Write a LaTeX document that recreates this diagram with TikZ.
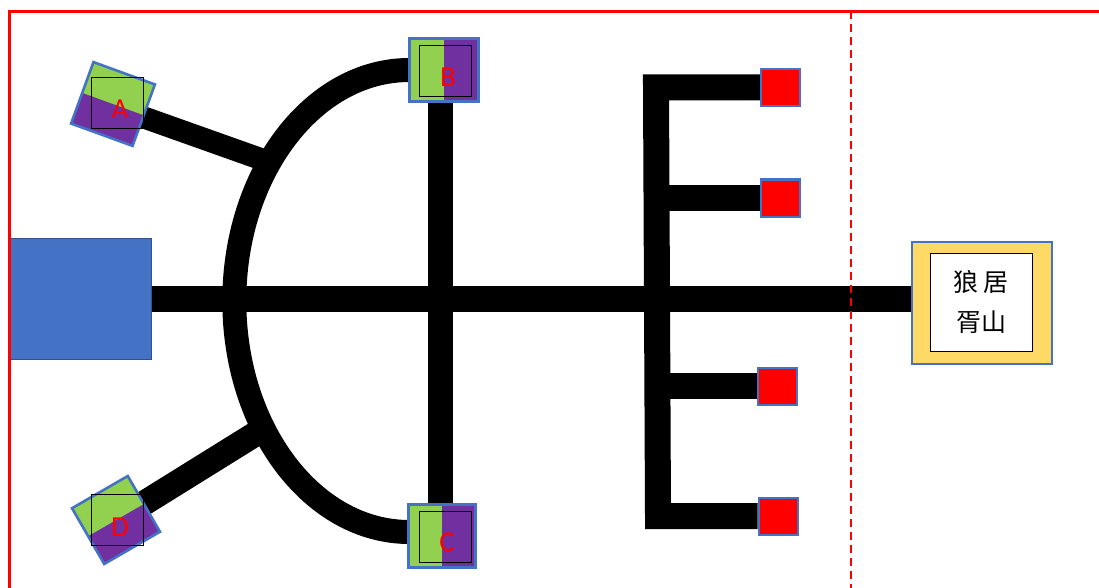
\documentclass[tikz,border=0pt]{standalone}
\usepackage{fontspec}
\setmainfont{Carlito}
\newfontfamily\cjkfont{Noto Sans CJK SC}
\usetikzlibrary{backgrounds}

\definecolor{boxblue}{RGB}{68,114,196}
\definecolor{darkblue}{RGB}{47,82,143}
\definecolor{leafgreen}{RGB}{146,208,80}
\definecolor{plum}{RGB}{112,48,160}
\definecolor{gold}{RGB}{255,217,102}

\tikzset{
  bar/.style={line width=25pt, black},
  gate/.style={fill=plum, minimum width=64pt, minimum height=64pt, inner sep=0pt},
  gateline/.style={draw=boxblue, line width=2.6pt, line join=miter},
  frame/.style={draw=black, line width=0.8pt, minimum width=52pt, minimum height=51pt, inner sep=0pt},
  tag/.style={text=red, inner sep=0pt, font=\fontsize{29}{29}\selectfont},
  stub/.style={draw=boxblue, line width=2pt, fill=red, minimum width=39pt, minimum height=37pt, inner sep=0pt},
}

\begin{document}
\begin{tikzpicture}[x=1pt, y=-1pt]
\useasboundingbox (0,0) rectangle (1099,588);

%% Boxes %%
\node[draw=darkblue, line width=1.2pt, fill=boxblue, minimum width=141pt, minimum height=121pt, inner sep=0pt] (base) at (81,299) {};

\node[draw=boxblue, line width=2pt, fill=gold, minimum width=140pt, minimum height=122pt, inner sep=0pt] (camp) at (982,303) {};
\node[draw=black, line width=0.8pt, fill=white, minimum width=102pt, minimum height=98pt, inner sep=0pt, align=center, font=\cjkfont\fontsize{25}{40}\selectfont] (campin) at (981,302) {狼 居\\胥山};


\node[gate, rotate=-20, minimum width=65pt, minimum height=65pt] (A) at (113,104) {};
\node[gate, rotate=30] (D) at (116,520) {};
\node[gate, minimum width=69pt, minimum height=63pt] (B) at (444,70) {};
\node[gate, minimum width=67pt, minimum height=63pt] (C) at (442,536) {};

\foreach \g in {A,D}
  \fill[leafgreen] (\g.north west) -- (\g.north east) -- (\g.east) -- (\g.west) -- cycle;
\foreach \g in {B,C}
  \fill[leafgreen] (\g.north west) -- (\g.north) -- (\g.south) -- (\g.south west) -- cycle;
\foreach \g in {A,B,C,D}
  \draw[gateline] (\g.north west) -- (\g.north east) -- (\g.south east) -- (\g.south west) -- cycle;

\node[frame] (Aframe) at (117,103) {};
\node[frame] (Bframe) at (445.5,71) {};
\node[frame] (Cframe) at (445.5,537) {};
\node[frame] (Dframe) at (117,520) {};

\node[tag] (Alab) at (120,109) {A};
\node[tag] (Blab) at (448,77) {B};
\node[tag] (Clab) at (447,542) {C};
\node[tag] (Dlab) at (120,527) {D};


\node[stub] (s1) at (780.5,87.5) {};
\node[stub] (s2) at (780.5,198) {};
\node[stub] (s3) at (777.5,386) {};
\node[stub] (s4) at (778,516) {};

\coordinate (armA) at (272,163);
\coordinate (armD) at (265,428);
\coordinate (spinetop) at (656,86);
\coordinate (spinebot) at (658,516);

%% Bars %%
\begin{scope}[on background layer]
\draw[bar, line width=26pt] (base.east) -- (base.east -| camp.west);
\draw[bar] ([xshift=-4pt]B.center) -- ([xshift=-2pt]C.center);
\draw[bar, line width=24pt] (B.west) arc[start angle=90, end angle=270, x radius=175pt, y radius=231pt];
\draw[bar, line width=22pt] (Alab.center) -- (armA);
\draw[bar, line width=25pt] (Dframe.center) -- (armD);

\draw[bar, line width=26pt, line join=miter] (s1.west) -- (s1.west -| spinetop) -- (spinebot) -- (s4.west);
\draw[bar, line width=26pt] (s2.west) -- (s2.west -| spinetop);
\draw[bar, line width=26pt] (s3.west) -- (s3.west -| spinebot);
\end{scope}

%% Frame %%
\draw[red, line width=3pt] (9.2,588) -- (9.2,11.5) -- (1099,11.5);
\draw[red, line width=2pt, dash pattern=on 8pt off 5pt] (851,11.5) -- (851,588);

\end{tikzpicture}
\end{document}
